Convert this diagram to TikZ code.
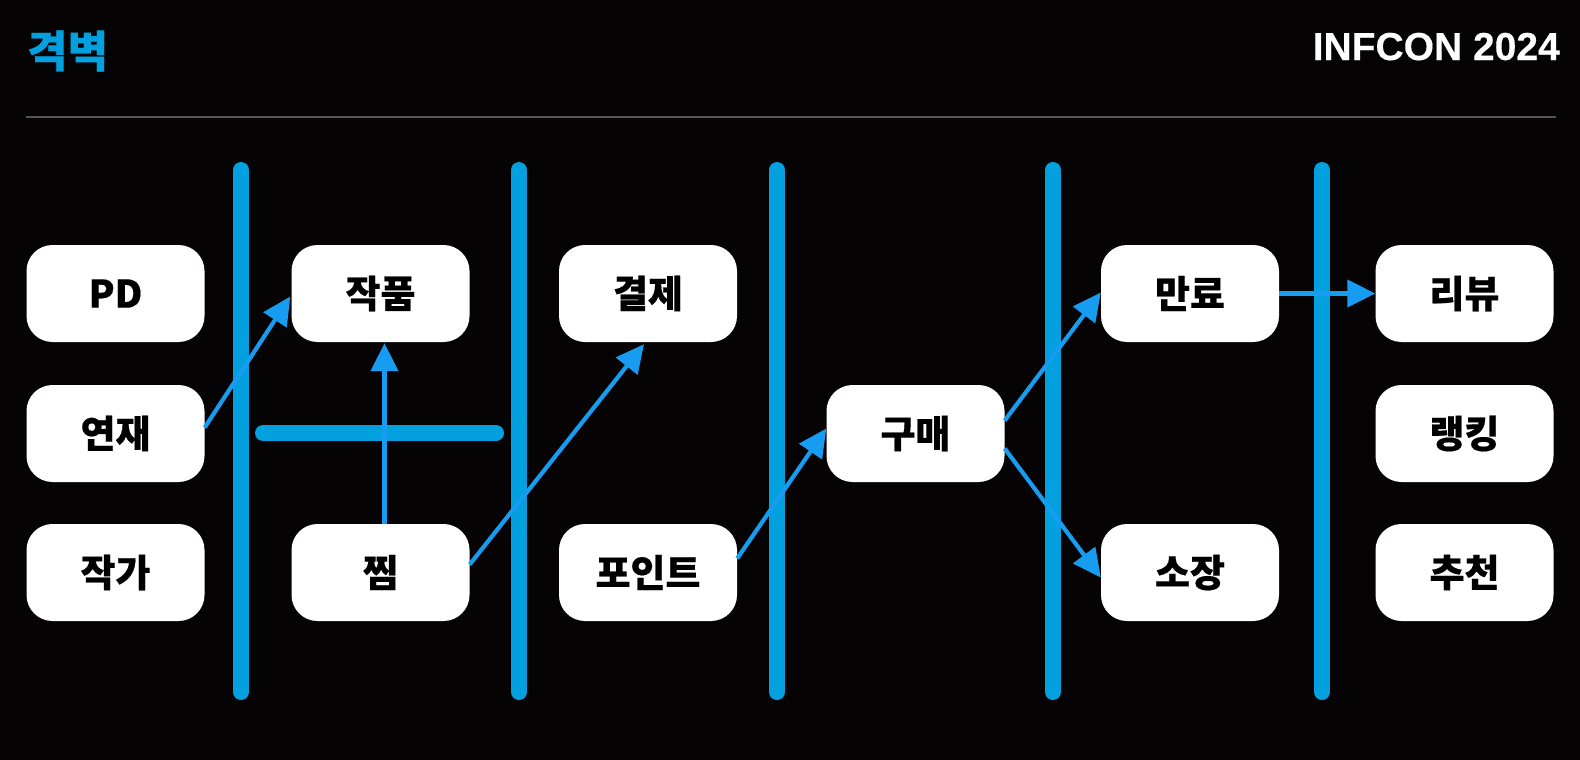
\documentclass[tikz,border=0pt]{standalone}
\usepackage{fontspec}
\setmainfont{Noto Sans CJK KR}[BoldFeatures={FakeBold=0.4}]
\newfontfamily\latinbold{Liberation Sans}[BoldFeatures={FakeBold=0.3}]
\usetikzlibrary{arrows.meta,calc}
\definecolor{bgc}{RGB}{6,3,4}
\definecolor{wallc}{RGB}{2,160,222}
\definecolor{arrc}{RGB}{22,156,240}
\definecolor{divc}{RGB}{88,84,84}
\begin{document}
\begin{tikzpicture}[x=1pt,y=-1pt,
  card/.style={rectangle, fill=white, rounded corners=26pt, minimum width=178pt, minimum height=97pt, inner sep=0pt, font=\fontsize{38}{40}\selectfont\bfseries, text=black},
  wall/.style={line width=16pt, draw=wallc, line cap=round},
  flow/.style={line width=4.2pt, draw=arrc, -{Triangle[length=28pt,width=27pt]}, arrc}]
\fill[bgc] (0,0) rectangle (1580,760);
\useasboundingbox (0,0) rectangle (1580,760);
% header
\node[anchor=west, text=wallc, inner sep=0pt, font=\fontsize{44}{48}\selectfont\bfseries] (title) at (27,51) {격벽};
\node[anchor=base east, text=white, inner sep=0pt, font=\fontsize{39}{42}\selectfont\latinbold\bfseries] (conf) at (1560,60) {INFCON 2024};
\coordinate (dl) at (26,117);
\coordinate (dr) at (1556,117);
\draw[divc, line width=2.5pt] (dl) -- (dr);
% walls
\foreach \x [count=\i] in {241,519,777,1053,1322}{
  \coordinate (wt\i) at (\x,170);
  \coordinate (wb\i) at (\x,692);
  \draw[wall] (wt\i) -- (wb\i);
}
\coordinate (hbl) at (263,433);
\coordinate (hbr) at (496,433);
\draw[wall] (hbl) -- (hbr);
% cards
\node[card] (pd) at (115.5,293.5) {PD};
\node[card] (yeonjae) at (115.5,433.5) {연재};
\node[card] (jakga) at (115.5,572.5) {작가};
\node[card] (jakpum) at (380.5,293.5) {작품};
\node[card] (jjim) at (380.5,572.5) {찜};
\node[card] (gyeolje) at (648,293.5) {결제};
\node[card] (point) at (648,572.5) {포인트};
\node[card] (guma) at (915.5,433.5) {구매};
\node[card] (manryo) at (1190,293.5) {만료};
\node[card] (sojang) at (1190,572.5) {소장};
\node[card] (review) at (1464.5,293.5) {리뷰};
\node[card] (ranking) at (1464.5,433.5) {랭킹};
\node[card] (recommend) at (1464.5,572.5) {추천};
% flows
\draw[flow] ($(yeonjae.east)+(0,-6)$) -- ($(jakpum.west)+(-1,3)$);
\draw[flow] ($(jjim.north)+(4,0)$) -- ($(jakpum.south)+(4,1)$);
\draw[flow] ($(jjim.east)+(0,-8)$) -- ($(gyeolje.south)+(-4,2)$);
\draw[flow] ($(point.east)+(0,-14)$) -- ($(guma.west)+(0,-5)$);
\draw[flow] ($(guma.east)+(0,-13)$) -- ($(manryo.west)+(0,-1)$);
\draw[flow] ($(guma.east)+(0,15)$) -- ($(sojang.west)+(0,5)$);
\draw[flow] (manryo.east) -- (review.west);
\end{tikzpicture}
\end{document}
